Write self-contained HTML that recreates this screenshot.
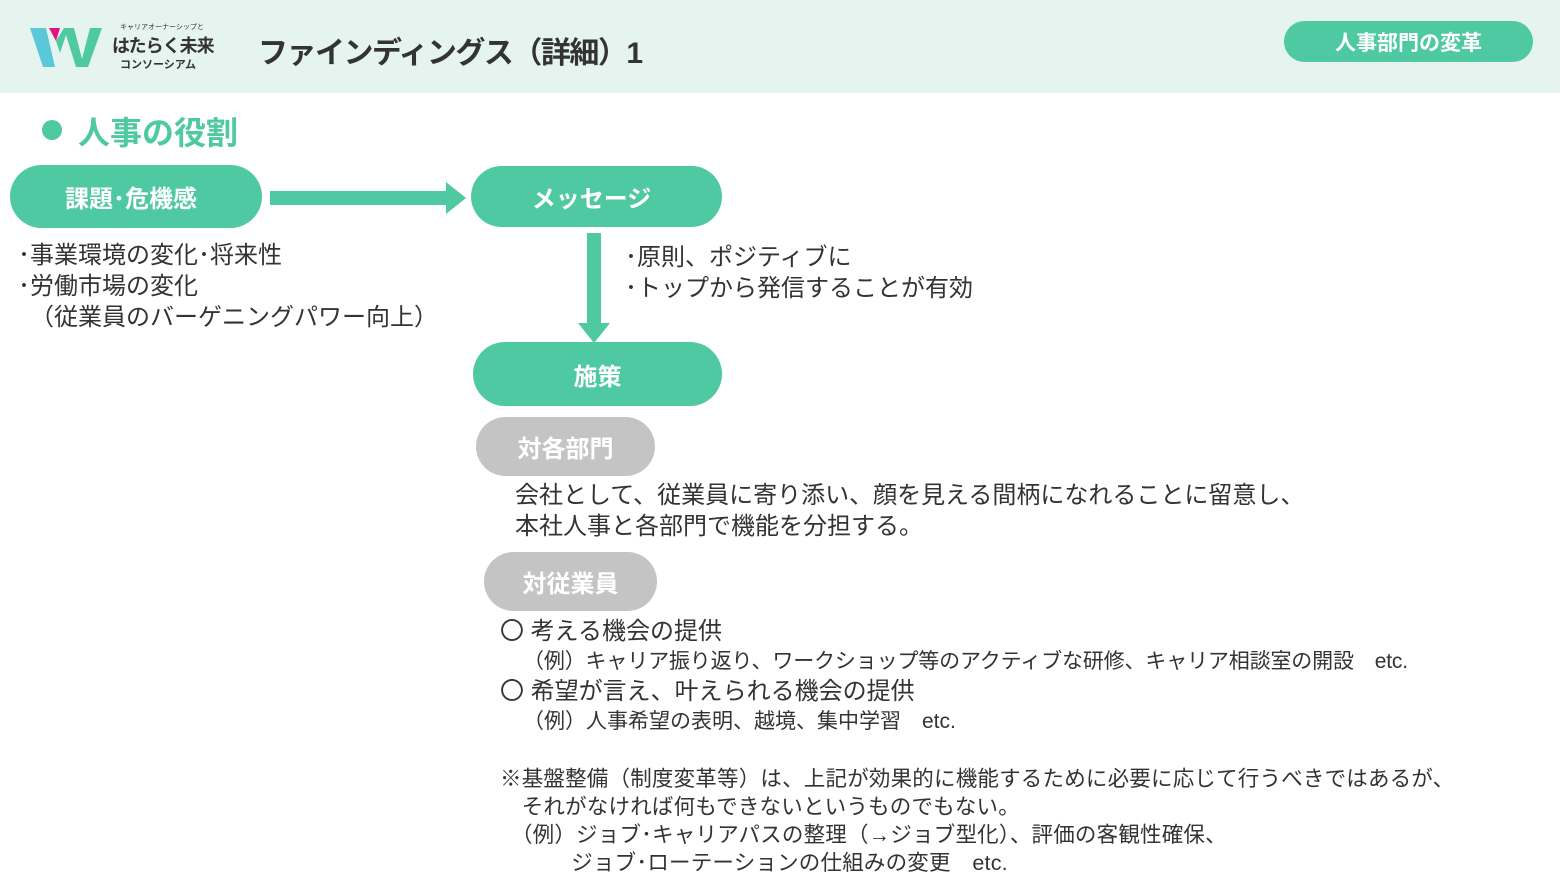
<!DOCTYPE html>
<html><head><meta charset="utf-8"><style>
body{margin:0;width:1560px;height:879px;position:relative;overflow:hidden;background:#fff;font-family:"Liberation Sans","Noto Sans CJK JP",sans-serif;color:#333}
.a{position:absolute;white-space:nowrap}
.pill{position:absolute;border-radius:32px;background:#4ec9a1;color:#fff;font-weight:bold;font-size:24px;display:flex;align-items:center;justify-content:center}
.g{background:#c4c4c4}
.t{font-size:24px;line-height:31px}
.s{font-size:21px;line-height:28px}
</style></head><body>
<div class="a" style="left:0;top:0;width:1560px;height:93px;background:#e5f4ee"></div>
<svg class="a" style="left:30px;top:25px" width="75" height="45"><polygon points="0,3 16,3 25,42 13,42" fill="#5bc8da"/><polygon points="19,3 30,3 26,16" fill="#e0157f"/><polygon points="26,16 34,3 44,3 52,34 60,3 72,3 58,42 46,42 36,10 30,28" fill="#4ec9a1"/></svg>
<div class="a" style="left:120px;top:22px;font-size:7px;color:#333">キャリアオーナーシップと</div>
<div class="a" style="left:112px;top:32px;font-size:18px;font-weight:bold;color:#333;letter-spacing:-1px">はたらく未来</div>
<div class="a" style="left:120px;top:56px;font-size:11px;font-weight:bold;color:#333">コンソーシアム</div>
<div class="a" style="left:258px;top:28px;font-size:30px;font-weight:bold;color:#333;letter-spacing:-1.5px">ファインディングス（詳細）1</div>
<div class="pill" style="left:1284px;top:21px;width:249px;height:41px;font-size:21px;border-radius:21px">人事部門の変革</div>
<div class="a" style="left:42px;top:120px;width:20px;height:20px;border-radius:50%;background:#4ec9a1"></div>
<div class="a" style="left:78px;top:108px;font-size:32px;font-weight:bold;color:#4ec9a1">人事の役割</div>
<div class="pill" style="left:10px;top:165px;width:242px;height:63px;padding-right:10px">課題･危機感</div>
<svg class="a" style="left:268px;top:180px" width="202" height="36"><rect x="2" y="11" width="178" height="14" fill="#4ec9a1"/><polygon points="178,2 198,18 178,34" fill="#4ec9a1"/></svg>
<div class="pill" style="left:471px;top:166px;width:241px;height:61px;padding-right:10px">メッセージ</div>
<svg class="a" style="left:576px;top:233px" width="36" height="112"><rect x="11" y="0" width="14" height="92" fill="#4ec9a1"/><polygon points="2,90 34,90 18,110" fill="#4ec9a1"/></svg>
<div class="pill" style="left:473px;top:342px;width:249px;height:64px">施策</div>
<div class="a t" style="left:18px;top:240px">･事業環境の変化･将来性<br>･労働市場の変化<br>　（従業員のバーゲニングパワー向上）</div>
<div class="a t" style="left:625px;top:242px">･原則、ポジティブに<br>･トップから発信することが有効</div>
<div class="pill g" style="left:476px;top:417px;width:179px;height:59px;border-radius:30px;padding-right:0">対各部門</div>
<div class="a t" style="left:515px;top:480px">会社として、従業員に寄り添い、顔を見える間柄になれることに留意し、<br>本社人事と各部門で機能を分担する。</div>
<div class="pill g" style="left:484px;top:552px;width:173px;height:59px;border-radius:30px">対従業員</div>
<div class="a" style="left:500px;top:617px;font-size:24px;line-height:30px">〇 考える機会の提供</div>
<div class="a s" style="left:523px;top:648px;letter-spacing:-0.15px">（例）キャリア振り返り、ワークショップ等のアクティブな研修、キャリア相談室の開設　etc.</div>
<div class="a" style="left:500px;top:677px;font-size:24px;line-height:30px">〇 希望が言え、叶えられる機会の提供</div>
<div class="a s" style="left:523px;top:708px">（例）人事希望の表明、越境、集中学習　etc.</div>
<div class="a s" style="left:500px;top:765px;font-size:21.5px;letter-spacing:0.2px">※基盤整備（制度変革等）は、上記が効果的に機能するために必要に応じて行うべきではあるが、<br>　それがなければ何もできないというものでもない。<br>　（例）ジョブ･キャリアパスの整理（→ジョブ型化）、評価の客観性確保、<br>　　　 ジョブ･ローテーションの仕組みの変更　etc.</div>
</body></html>
